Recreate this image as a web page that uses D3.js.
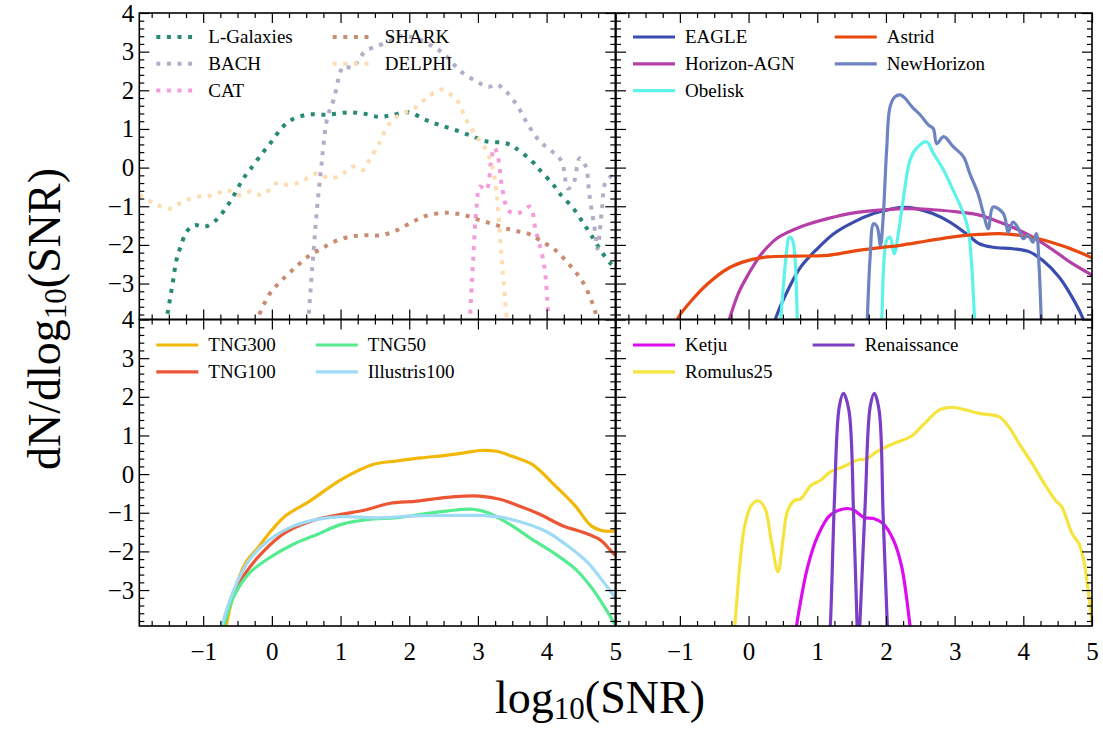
<!DOCTYPE html>
<html>
<head>
<meta charset="utf-8">
<script src="https://cdn.jsdelivr.net/npm/d3@7"></script>
<style>
  body { margin: 0; background: #fff; }
  svg text { font-family: "Liberation Serif", "DejaVu Serif", serif; fill: #000; }
</style>
</head>
<body>
<div id="chart"></div>
<script>
// ---- data: [log10(SNR), log10 dN/dlog10(SNR)], null = gap ----
const lGalaxies = [[-1.55,-4.05],[-1.52,-3.78],[-1.445,-3.0],[-1.39,-2.4],[-1.33,-2.05],[-1.24,-1.66],[-1.13,-1.49],[-0.98,-1.53],[-0.84,-1.40],[-0.69,-1.10],[-0.55,-0.71],[-0.43,-0.32],[-0.32,-0.06],[-0.14,0.37],[0.0,0.68],[0.14,1.02],[0.29,1.24],[0.52,1.37],[0.81,1.37],[1.13,1.43],[1.36,1.39],[1.56,1.31],[1.73,1.35],[1.99,1.43],[2.23,1.24],[2.43,1.11],[2.69,0.96],[2.92,0.81],[3.12,0.68],[3.41,0.63],[3.55,0.50],[3.79,0.16],[3.90,-0.06],[4.10,-0.45],[4.19,-0.67],[4.39,-1.06],[4.54,-1.45],[4.65,-1.75],[4.80,-2.18],[4.94,-2.50],[5.0,-2.6]];
const bach = [[0.53,-4.05],[0.54,-3.74],[0.61,-2.1],[0.66,-1.01],[0.71,-0.15],[0.75,0.55],[0.81,1.32],[0.90,1.76],[0.98,2.36],[1.04,2.62],[1.18,2.58],[1.27,2.80],[1.36,3.01],[1.53,3.14],[1.71,3.27],[1.88,3.40],[2.08,3.36],[2.34,3.14],[2.51,2.93],[2.75,2.49],[2.98,2.23],[3.15,2.09],[3.27,2.15],[3.41,1.97],[3.58,1.58],[3.73,1.11],[3.90,0.68],[4.08,0.42],[4.22,0.16],[4.31,-0.54],[4.39,-0.41],[4.48,0.24],[4.57,0.03],[4.62,-0.67],[4.71,-1.71],[4.74,-2.1],[4.80,-1.19],[4.86,-0.36],[4.94,-0.23],[5.0,-0.32]];
const cat = [[2.885,-4.05],[2.89,-3.74],[2.93,-2.4],[2.98,-1.01],[3.03,-0.49],[3.12,-0.58],[3.20,0.29],[3.24,0.52],[3.29,0.29],[3.35,-0.49],[3.44,-1.10],[3.55,-1.19],[3.64,-1.14],[3.76,-1.01],[3.84,-1.62],[3.96,-2.48],[4.02,-3.74],[4.025,-4.05]];
const shark = [[-0.24,-4.05],[-0.20,-3.87],[-0.03,-3.26],[0.14,-2.92],[0.35,-2.57],[0.55,-2.27],[0.72,-2.10],[0.90,-1.92],[1.13,-1.79],[1.36,-1.75],[1.59,-1.75],[1.82,-1.62],[2.05,-1.40],[2.28,-1.23],[2.57,-1.17],[2.80,-1.23],[3.03,-1.36],[3.27,-1.49],[3.50,-1.62],[3.73,-1.71],[3.90,-1.88],[4.13,-2.14],[4.36,-2.57],[4.54,-3.00],[4.71,-3.74],[4.74,-4.05]];
const delphi = [[-1.93,-0.72],[-1.88,-0.75],[-1.71,-0.93],[-1.47,-1.06],[-1.30,-0.88],[-1.07,-0.75],[-0.84,-0.71],[-0.66,-0.58],[-0.49,-0.71],[-0.32,-0.62],[-0.14,-0.71],[0.09,-0.39],[0.26,-0.45],[0.43,-0.36],[0.66,-0.15],[0.84,-0.28],[1.01,-0.19],[1.18,0.03],[1.33,-0.06],[1.42,0.20],[1.56,0.63],[1.68,1.06],[1.82,1.32],[2.08,1.54],[2.28,1.84],[2.46,2.02],[2.57,1.93],[2.69,1.76],[2.83,1.24],[2.98,0.81],[3.09,0.55],[3.18,0.2],[3.24,-0.23],[3.29,-1.01],[3.35,-2.48],[3.41,-3.74],[3.42,-4.05]];

const eagle = [[0.37,-4.05],[0.40,-3.87],[0.57,-3.18],[0.76,-2.57],[1.0,-2.10],[1.24,-1.71],[1.53,-1.41],[1.82,-1.19],[2.11,-1.06],[2.25,-1.03],[2.44,-1.06],[2.68,-1.19],[2.93,-1.41],[3.17,-1.71],[3.36,-1.97],[3.56,-2.06],[3.85,-2.10],[4.09,-2.18],[4.28,-2.40],[4.52,-2.83],[4.71,-3.35],[4.86,-3.87],[4.89,-4.05]];
const horizonAGN = [[-0.30,-4.05],[-0.27,-3.87],[-0.15,-3.26],[0.0,-2.75],[0.19,-2.23],[0.43,-1.81],[0.76,-1.53],[1.15,-1.32],[1.53,-1.17],[1.97,-1.09],[2.30,-1.06],[2.68,-1.09],[3.07,-1.15],[3.36,-1.23],[3.65,-1.41],[3.94,-1.62],[4.22,-1.88],[4.51,-2.23],[4.71,-2.48],[5.0,-2.78]];
const obelisk = [[0.46,-4.05],[0.47,-3.87],[0.55,-2.23],[0.59,-1.80],[0.64,-1.88],[0.71,-3.87],[0.72,-4.05],null,[1.93,-4.05],[1.94,-3.87],[2.01,-1.88],[2.06,-1.80],[2.12,-2.23],[2.18,-1.71],[2.25,-0.84],[2.35,0.19],[2.44,0.49],[2.59,0.67],[2.69,0.37],[2.84,-0.07],[2.98,-0.59],[3.13,-1.19],[3.20,-1.62],[3.25,-2.57],[3.29,-3.87],[3.30,-4.05]];
const astrid = [[-1.06,-4.05],[-1.02,-3.87],[-0.83,-3.44],[-0.59,-3.0],[-0.30,-2.61],[0.0,-2.40],[0.28,-2.31],[0.67,-2.29],[1.15,-2.27],[1.53,-2.16],[1.92,-2.07],[2.21,-2.01],[2.59,-1.90],[2.98,-1.79],[3.36,-1.73],[3.65,-1.71],[3.94,-1.75],[4.22,-1.84],[4.61,-2.05],[5.0,-2.33]];
const newHorizon = [[1.725,-4.05],[1.73,-3.87],[1.77,-2.31],[1.82,-1.45],[1.87,-1.52],[1.92,-2.01],[1.96,-1.28],[2.01,0.45],[2.06,1.57],[2.13,1.83],[2.21,1.88],[2.28,1.79],[2.38,1.57],[2.50,1.36],[2.62,1.10],[2.69,1.01],[2.74,0.62],[2.84,0.80],[2.98,0.54],[3.13,0.28],[3.22,-0.15],[3.34,-0.67],[3.42,-1.19],[3.49,-1.58],[3.56,-1.02],[3.71,-1.19],[3.78,-1.67],[3.85,-1.41],[3.93,-1.58],[4.00,-1.84],[4.07,-1.75],[4.14,-1.93],[4.19,-1.71],[4.23,-2.57],[4.26,-3.87],[4.265,-4.05]];

const tng300 = [[-0.68,-4.05],[-0.66,-3.88],[-0.55,-3.06],[-0.38,-2.29],[-0.20,-1.90],[-0.03,-1.51],[0.20,-1.08],[0.55,-0.70],[1.01,-0.14],[1.47,0.25],[1.82,0.34],[2.17,0.42],[2.51,0.48],[2.80,0.55],[3.03,0.61],[3.27,0.59],[3.50,0.46],[3.79,0.25],[4.13,-0.31],[4.42,-0.83],[4.65,-1.34],[4.83,-1.47],[5.0,-1.47]];
const tng100 = [[-0.71,-4.05],[-0.69,-3.88],[-0.58,-3.15],[-0.38,-2.55],[-0.14,-2.03],[0.20,-1.51],[0.66,-1.17],[1.01,-1.04],[1.36,-0.93],[1.71,-0.76],[2.11,-0.70],[2.51,-0.61],[2.80,-0.57],[3.03,-0.57],[3.32,-0.65],[3.61,-0.83],[3.90,-1.04],[4.24,-1.34],[4.54,-1.51],[4.77,-1.69],[4.94,-1.99],[5.0,-2.10]];
const tng50 = [[-0.71,-4.05],[-0.69,-3.88],[-0.55,-3.15],[-0.32,-2.55],[-0.03,-2.16],[0.32,-1.81],[0.66,-1.56],[1.01,-1.30],[1.42,-1.17],[1.82,-1.13],[2.17,-1.04],[2.57,-0.95],[2.92,-0.91],[3.15,-1.00],[3.50,-1.34],[3.79,-1.69],[4.13,-2.07],[4.42,-2.46],[4.65,-2.93],[4.83,-3.40],[5.0,-3.90]];
const illustris100 = [[-0.74,-4.05],[-0.72,-3.88],[-0.55,-2.98],[-0.32,-2.20],[-0.03,-1.69],[0.32,-1.34],[0.66,-1.17],[1.01,-1.10],[1.53,-1.13],[2.11,-1.08],[2.69,-1.07],[3.03,-1.07],[3.38,-1.13],[3.73,-1.30],[4.02,-1.51],[4.31,-1.86],[4.60,-2.29],[4.83,-2.80],[5.0,-3.20]];

const ketju = [[0.69,-4.05],[0.70,-3.91],[0.76,-3.27],[0.86,-2.40],[1.00,-1.63],[1.19,-1.06],[1.43,-0.89],[1.53,-0.93],[1.68,-1.12],[1.82,-1.15],[1.96,-1.28],[2.11,-1.71],[2.23,-2.40],[2.35,-3.91],[2.36,-4.05]];
const romulus25 = [[-0.21,-4.05],[-0.20,-3.91],[-0.13,-2.40],[-0.06,-1.37],[0.04,-0.81],[0.14,-0.69],[0.24,-0.89],[0.33,-1.71],[0.43,-2.53],[0.50,-1.71],[0.57,-0.94],[0.67,-0.68],[0.76,-0.64],[0.91,-0.29],[1.05,-0.16],[1.19,0.06],[1.38,0.19],[1.58,0.36],[1.72,0.40],[1.87,0.58],[2.11,0.79],[2.37,0.98],[2.54,1.27],[2.78,1.66],[2.97,1.73],[3.16,1.66],[3.36,1.57],[3.65,1.48],[3.79,1.22],[3.94,0.79],[4.13,0.27],[4.32,-0.29],[4.47,-0.68],[4.56,-0.85],[4.71,-1.54],[4.81,-1.80],[4.88,-2.23],[4.95,-3.09],[5.0,-3.8]];
const renaissance = [[1.18,-4.05],[1.19,-3.91],[1.25,-0.68],[1.32,1.74],[1.38,2.09],[1.46,1.66],[1.53,-1.11],[1.58,-3.91],[1.585,-4.05],null,[1.615,-4.05],[1.62,-3.91],[1.70,-0.68],[1.77,1.74],[1.83,2.09],[1.90,1.66],[1.96,-1.11],[2.02,-3.91],[2.025,-4.05]];

const xDomain = [-1.93, 5];
const yDomain = [-3.93, 4];
const xTicks = [-1, 0, 1, 2, 3, 4, 5];
const xTickLabels = ["\u22121", "0", "1", "2", "3", "4", "5"];
const yTicks = [-3, -2, -1, 0, 1, 2, 3, 4];
const yTickLabels = ["\u22123", "\u22122", "\u22121", "0", "1", "2", "3", "4"];

const seriesData = {
  "L-Galaxies": lGalaxies, "BACH": bach, "CAT": cat, "SHARK": shark, "DELPHI": delphi,
  "EAGLE": eagle, "Horizon-AGN": horizonAGN, "Obelisk": obelisk, "Astrid": astrid, "NewHorizon": newHorizon,
  "TNG300": tng300, "TNG100": tng100, "TNG50": tng50, "Illustris100": illustris100,
  "Ketju": ketju, "Romulus25": romulus25, "Renaissance": renaissance
};

// ---- styles ----
const colors = {
  "L-Galaxies": "#268a76", "BACH": "#b5adc8", "CAT": "#f59bdb", "SHARK": "#c98c70", "DELPHI": "#fcdcb0",
  "EAGLE": "#3a4cad", "Horizon-AGN": "#b63fa7", "Obelisk": "#5ef3ea", "Astrid": "#e9490f", "NewHorizon": "#6e83c1",
  "TNG300": "#f2b807", "TNG100": "#ec5634", "TNG50": "#55ec91", "Illustris100": "#9fdaf7",
  "Ketju": "#dc0bf0", "Romulus25": "#f6e43e", "Renaissance": "#7a3fc5"
};

const panels = [
  {col: 0, row: 0, dotted: true, names: ["L-Galaxies", "BACH", "CAT", "SHARK", "DELPHI"]},
  {col: 1, row: 0, dotted: false, names: ["EAGLE", "Horizon-AGN", "Obelisk", "Astrid", "NewHorizon"]},
  {col: 0, row: 1, dotted: false, names: ["TNG300", "TNG100", "TNG50", "Illustris100"]},
  {col: 1, row: 1, dotted: false, names: ["Ketju", "Romulus25", "Renaissance"]}
];

const width = 1103, height = 729;
const colX = [139.3, 616];
const rowY = [13, 319.5];
const panelW = 476, panelH = 306.5;

const svg = d3.select("#chart")
    .append("svg")
    .attr("width", width)
    .attr("height", height);

const x = d3.scaleLinear().domain(xDomain).range([0, panelW]);
const y = d3.scaleLinear().domain(yDomain).range([panelH, 0]);

const line = d3.line()
    .defined(d => d !== null)
    .x(d => x(d[0]))
    .y(d => y(d[1]))
    .curve(d3.curveCatmullRom.alpha(0.5));

const minorX = d3.range(-1.75, 5.001, 0.25).filter(v => Math.abs(v - Math.round(v)) > 1e-6);
const minorY = d3.range(-3.8, 4.001, 0.2).filter(v => Math.abs(v - Math.round(v)) > 1e-6);

function styleAxis(g) {
    g.select(".domain").remove();
    g.selectAll("line").attr("stroke", "#000").attr("stroke-width", 1.2);
    g.attr("font-family", "'Liberation Serif', serif").attr("font-size", 25);
}

panels.forEach((p, pi) => {
    const g = svg.append("g").attr("transform", `translate(${colX[p.col]},${rowY[p.row]})`);

    g.append("clipPath").attr("id", "clip" + pi)
        .append("rect").attr("width", panelW).attr("height", panelH);

    // curves
    const curves = g.append("g").attr("clip-path", `url(#clip${pi})`);
    p.names.forEach(name => {
        curves.append("path")
            .attr("d", line(seriesData[name]))
            .attr("fill", "none")
            .attr("stroke", colors[name])
            .attr("stroke-width", p.dotted ? 4 : 3.2)
            .attr("stroke-dasharray", p.dotted ? "4,6.6" : null)
            .attr("stroke-linejoin", "round");
    });

    // ticks, all sides inward
    const showX = p.row === 1, showY = p.col === 0;
    g.append("g").attr("transform", `translate(0,${panelH})`)
        .call(d3.axisBottom(x).tickValues(xTicks).tickSize(-10).tickPadding(16)
            .tickFormat((d, i) => showX ? xTickLabels[i] : ""))
        .call(styleAxis);
    g.append("g").attr("transform", `translate(0,${panelH})`)
        .call(d3.axisBottom(x).tickValues(minorX).tickSize(-5).tickFormat(""))
        .call(styleAxis);
    g.append("g")
        .call(d3.axisTop(x).tickValues(xTicks).tickSize(-10).tickFormat(""))
        .call(styleAxis);
    g.append("g")
        .call(d3.axisTop(x).tickValues(minorX).tickSize(-5).tickFormat(""))
        .call(styleAxis);
    g.append("g")
        .call(d3.axisLeft(y).tickValues(yTicks).tickSize(-10).tickPadding(5)
            .tickFormat((d, i) => showY ? yTickLabels[i] : ""))
        .call(styleAxis);
    g.append("g")
        .call(d3.axisLeft(y).tickValues(minorY).tickSize(-5).tickFormat(""))
        .call(styleAxis);
    g.append("g").attr("transform", `translate(${panelW},0)`)
        .call(d3.axisRight(y).tickValues(yTicks).tickSize(-10).tickFormat(""))
        .call(styleAxis);
    g.append("g").attr("transform", `translate(${panelW},0)`)
        .call(d3.axisRight(y).tickValues(minorY).tickSize(-5).tickFormat(""))
        .call(styleAxis);

    g.append("rect")
        .attr("width", panelW).attr("height", panelH)
        .attr("fill", "none").attr("stroke", "#000").attr("stroke-width", 1.6);

    // legend, two columns filled column-first
    const rows = Math.ceil(p.names.length / 2);
    const leg = g.append("g");
    let colStart = 17;
    [p.names.slice(0, rows), p.names.slice(rows)].forEach(names => {
        let maxW = 0;
        names.forEach((name, r) => {
            const ly = (p.row === 0 ? 24 : 25.5) + r * 26.8;
            leg.append("line")
                .attr("x1", colStart).attr("x2", colStart + 42)
                .attr("y1", ly).attr("y2", ly)
                .attr("stroke", colors[name])
                .attr("stroke-width", p.dotted ? 4 : 3.2)
                .attr("stroke-dasharray", p.dotted ? "4,6.6" : null);
            const t = leg.append("text")
                .attr("x", colStart + 52).attr("y", ly).attr("dy", "0.33em")
                .attr("font-size", 19)
                .text(name);
            maxW = Math.max(maxW, t.node().getComputedTextLength());
        });
        colStart = colStart + 52 + maxW + 40;
    });
});

// axis titles
const xl = svg.append("text")
    .attr("x", 600).attr("y", 713)
    .attr("text-anchor", "middle")
    .attr("font-size", 46);
xl.append("tspan").text("log");
xl.append("tspan").attr("font-size", 31).attr("dy", 6).text("10");
xl.append("tspan").attr("dy", -6).text("(SNR)");

const yl = svg.append("text")
    .attr("transform", "translate(60,319) rotate(-90)")
    .attr("text-anchor", "middle")
    .attr("font-size", 46);
yl.append("tspan").text("dN/dlog");
yl.append("tspan").attr("font-size", 31).attr("dy", 6).text("10");
yl.append("tspan").attr("dy", -6).text("(SNR)");
</script>
</body>
</html>
